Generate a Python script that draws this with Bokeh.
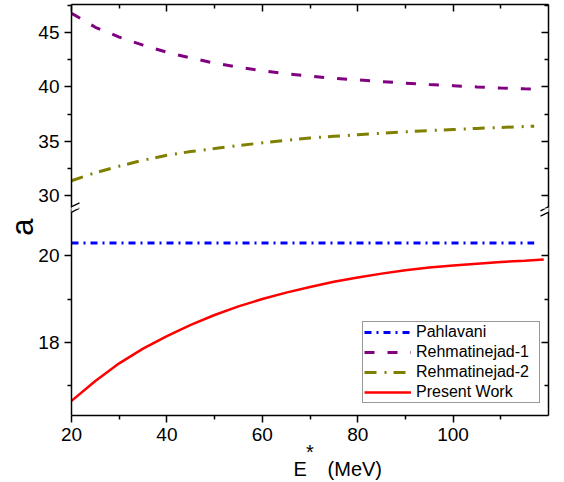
from bokeh.plotting import figure
from bokeh.layouts import gridplot
from bokeh.models import LinearAxis, FixedTicker, Arrow, Range1d
from bokeh.embed import file_html
from bokeh.resources import INLINE

# ---------------- data ----------------
e_pahlavani = [20, 40, 60, 80, 100, 117]
a_pahlavani = [20.3, 20.3, 20.3, 20.3, 20.3, 20.3]

e_rehmat1 = [20, 25, 30, 35, 40, 45, 50, 55, 60, 65, 70, 75, 80, 85, 90, 95, 100, 105, 110, 115, 117]
a_rehmat1 = [46.8, 45.5, 44.6, 43.85, 43.2, 42.67, 42.2, 41.82, 41.5, 41.22, 41.0, 40.8, 40.65,
             40.5, 40.35, 40.22, 40.12, 40.0, 39.9, 39.83, 39.81]

e_rehmat2 = [20, 25, 30, 35, 40, 45, 50, 55, 60, 65, 70, 75, 80, 85, 90, 95, 100, 105, 110, 115, 117]
a_rehmat2 = [31.36, 32.1, 32.7, 33.25, 33.7, 34.05, 34.32, 34.6, 34.85, 35.07, 35.3, 35.45, 35.6,
             35.73, 35.87, 35.98, 36.08, 36.18, 36.27, 36.35, 36.38]

e_present = [20, 25, 30, 35, 40, 45, 50, 55, 60, 65, 70, 75, 80, 85, 90, 95, 100, 105, 110, 115, 119]
a_present = [16.64, 17.1, 17.51, 17.85, 18.14, 18.4, 18.63, 18.83, 19.0, 19.15, 19.28, 19.4, 19.5,
             19.59, 19.67, 19.73, 19.78, 19.82, 19.86, 19.89, 19.92]

x_major = [20, 40, 60, 80, 100]
x_minor = [30, 50, 70, 90, 110]
y_top_major = [30, 35, 40, 45]
y_top_minor = [32.5, 37.5, 42.5, 47.5]
y_bot_major = [18, 20]
y_bot_minor = [17, 19]

labels = ["Pahlavani", "Rehmatinejad-1", "Rehmatinejad-2", "Present Work"]
colors = ["#0000FF", "#800080", "#808000", "#FF0000"]

NB = "\u00a0"
x_title = "*\n" + NB * 10 + "E" + NB * 3 + "\u2009(MeV)"
y_title = "a"

# ---------------- geometry ----------------
FONT = "Liberation Sans"
X_RANGE = (20, 120)
Y_TOP = (28.8, 47.6)
Y_BOT = (16.3, 21.1)
W = 564
BL, BR = 71, 16
FRAME_W = W - BL - BR
TOP_FRAME_H, BOT_FRAME_H = 204, 207
TOP_BORDER, BOT_BORDER = 4, 67
F_LEFT, F_TOP = BL, TOP_BORDER
F_MID = TOP_BORDER + TOP_FRAME_H
F_BOT = F_MID + BOT_FRAME_H


def xd(px):
    return X_RANGE[0] + (px - F_LEFT) * (X_RANGE[1] - X_RANGE[0]) / FRAME_W


def yd_top(py):
    return Y_TOP[1] - (py - F_TOP) * (Y_TOP[1] - Y_TOP[0]) / TOP_FRAME_H


def yd_bot(py):
    return Y_BOT[1] - (py - F_MID) * (Y_BOT[1] - Y_BOT[0]) / BOT_FRAME_H


def make_fig(height, yr, bt, bb):
    p = figure(width=W, height=height, x_range=Range1d(*X_RANGE), y_range=Range1d(*yr),
               output_backend="svg", toolbar_location=None,
               x_axis_location=None, y_axis_location=None,
               min_border_left=BL, min_border_right=BR, min_border_top=bt, min_border_bottom=bb)
    p.outline_line_color = None
    p.xgrid.grid_line_color = None
    p.ygrid.grid_line_color = None
    p.background_fill_color = "white"
    p.border_fill_color = "white"
    return p


def style_axis(ax, labels_on, inward):
    ax.axis_line_width = 1.5
    ax.axis_line_color = "black"
    ax.major_tick_line_color = "black"
    ax.minor_tick_line_color = "black"
    ax.major_tick_line_width = 1.5
    ax.minor_tick_line_width = 1.5
    if inward:
        ax.major_tick_in, ax.major_tick_out = 7, 0
        ax.minor_tick_in, ax.minor_tick_out = 4, 0
    else:
        ax.major_tick_in, ax.major_tick_out = 0, 7
        ax.minor_tick_in, ax.minor_tick_out = 0, 4
    if labels_on:
        ax.major_label_text_font = FONT
        ax.major_label_text_font_size = "19px"
        ax.major_label_text_color = "black"
        ax.major_label_standoff = 5
    else:
        ax.major_label_text_font_size = "1px"
        ax.major_label_text_color = None
        ax.major_label_standoff = 0


def add_break(p, yfun):
    for x0 in (F_LEFT - 8, F_LEFT + FRAME_W - 8):
        p.add_layout(Arrow(end=None, x_start=xd(x0), y_start=yfun(F_MID + 5), x_end=xd(x0 + 16),
                           y_end=yfun(F_MID - 3), line_color="white", line_width=4))
        for dy in (-2.7, 2.7):
            p.add_layout(Arrow(end=None, x_start=xd(x0), y_start=yfun(F_MID + 5 + dy), x_end=xd(x0 + 16),
                               y_end=yfun(F_MID - 3 + dy), line_color="black", line_width=1.3))


# ---------------- top panel ----------------
pt = make_fig(TOP_BORDER + TOP_FRAME_H, Y_TOP, TOP_BORDER, 0)
yt = FixedTicker(ticks=y_top_major, minor_ticks=y_top_minor)
xt = FixedTicker(ticks=x_major, minor_ticks=x_minor)
ax = LinearAxis(ticker=yt); style_axis(ax, True, False); pt.add_layout(ax, "left")
ax = LinearAxis(ticker=yt); style_axis(ax, False, True); pt.add_layout(ax, "right")
ax = LinearAxis(ticker=xt); style_axis(ax, False, True); pt.add_layout(ax, "above")

pt.line(e_rehmat1, a_rehmat1, line_color=colors[1], line_width=3, line_dash="10 13")
pt.line(e_rehmat2, a_rehmat2, line_color=colors[2], line_width=3, line_dash="12 8 2 7")
add_break(pt, yd_top)

# ---------------- bottom panel ----------------
pb = make_fig(BOT_FRAME_H + BOT_BORDER, Y_BOT, 0, BOT_BORDER)
yb = FixedTicker(ticks=y_bot_major, minor_ticks=y_bot_minor)

ay = LinearAxis(ticker=yb); style_axis(ay, True, False)
# the title sits just under the axis break: pad it so that it stays inside this panel
ay.axis_label = NB * 19 + "\u2009" + y_title
ay.axis_label_text_font = FONT
ay.axis_label_text_font_size = "31px"
ay.axis_label_text_font_style = "normal"
ay.axis_label_text_color = "black"
ay.axis_label_standoff = -5
pb.add_layout(ay, "left")

ax = LinearAxis(ticker=yb); style_axis(ax, False, True); pb.add_layout(ax, "right")

axb = LinearAxis(ticker=xt); style_axis(axb, True, False)
axb.axis_label = x_title
axb.axis_label_text_font = FONT
axb.axis_label_text_font_size = "20px"
axb.axis_label_text_font_style = "normal"
axb.axis_label_text_color = "black"
axb.axis_label_text_line_height = 0.78
axb.axis_label_standoff = -3
pb.add_layout(axb, "below")

pb.line(e_pahlavani, a_pahlavani, line_color=colors[0], line_width=3, line_dash="7 5 2 5",
        legend_label=labels[0])
# these two lie outside the lower range; they only feed the shared legend
pb.line(e_rehmat1, a_rehmat1, line_color=colors[1], line_width=3, line_dash="10 13",
        legend_label=labels[1])
pb.line(e_rehmat2, a_rehmat2, line_color=colors[2], line_width=3, line_dash="12 8 2 7",
        legend_label=labels[2])
pb.line(e_present, a_present, line_color=colors[3], line_width=2.5, legend_label=labels[3])
add_break(pb, yd_bot)

lg = pb.legend[0]
lg.location = (362 - F_LEFT, F_BOT - 403)
lg.padding = 1
lg.spacing = 2
lg.label_height = 18
lg.glyph_height = 18
lg.glyph_width = 47
lg.label_standoff = 5
lg.label_width = 122
lg.label_text_font = FONT
lg.label_text_font_size = "16px"
lg.label_text_color = "black"
lg.border_line_color = "#333333"
lg.border_line_width = 1
lg.background_fill_color = "white"
lg.background_fill_alpha = 1

grid = gridplot([[pt], [pb]], toolbar_location=None)

open("out.html", "w").write(file_html(grid, INLINE))
